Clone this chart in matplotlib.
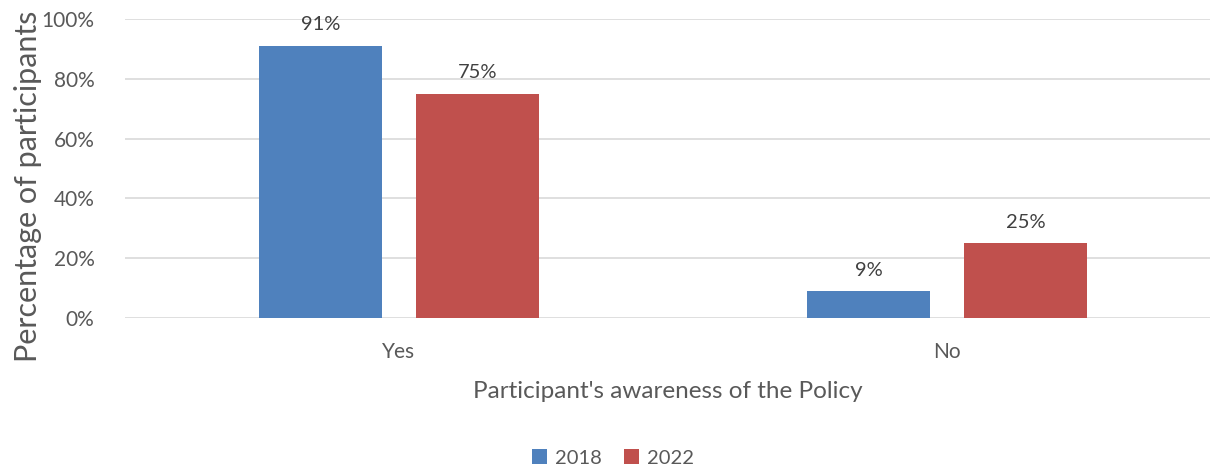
import matplotlib
matplotlib.use("Agg")
import matplotlib.pyplot as plt
import numpy as np
from matplotlib.ticker import PercentFormatter

categories = ["Yes", "No"]
series_names = ["2018", "2022"]
values_2018 = [91, 9]
values_2022 = [75, 25]
yticks = [0, 20, 40, 60, 80, 100]

plt.rcParams['font.family'] = ['Lato', 'DejaVu Sans']
txt = '#595959'

fig = plt.figure(figsize=(12.23, 4.70), dpi=100)
ax = fig.add_axes([125/1223, 1-318/470, (1210-125)/1223, 299/470])

x = np.arange(len(categories))
w = 0.2245
off = 0.1432
b1 = ax.bar(x - off, values_2018, w, color='#4F81BD', label=series_names[0], zorder=3)
b2 = ax.bar(x + off, values_2022, w, color='#C0504D', label=series_names[1], zorder=3)

for bars, vals in ((b1, values_2018), (b2, values_2022)):
    for r, v in zip(bars, vals):
        ax.text(r.get_x() + r.get_width()/2, v + 4.2, f"{v}%", ha='center', va='bottom',
                fontsize=14.5, color='#404040')

ax.set_xlim(-0.5, 1.48)
ax.set_ylim(0, 100)
ax.set_yticks(yticks)
ax.yaxis.set_major_formatter(PercentFormatter(decimals=0))
ax.set_xticks(x)
ax.set_xticklabels(categories)
ax.tick_params(axis='both', length=0, labelsize=15, colors=txt)
ax.tick_params(axis='x', pad=17)
ax.tick_params(axis='y', pad=22)
ax.grid(axis='y', color='#D9D9D9', linewidth=1.2, zorder=0)
for s in ax.spines.values():
    s.set_visible(False)

fig.text(28/1223, 1-186/470, "Percentage of participants", rotation=90, fontsize=22,
         color=txt, ha='center', va='center')
ax.set_xlabel("Participant's awareness of the Policy", fontsize=17.5, color=txt, labelpad=14)

fig.legend(loc='center', bbox_to_anchor=(613/1223, 1-458/470), ncol=2, frameon=False,
           fontsize=14.5, labelcolor=txt, handlelength=0.75, handleheight=0.75,
           handletextpad=0.4, columnspacing=1.1)

fig.savefig("out.png", dpi=100)
